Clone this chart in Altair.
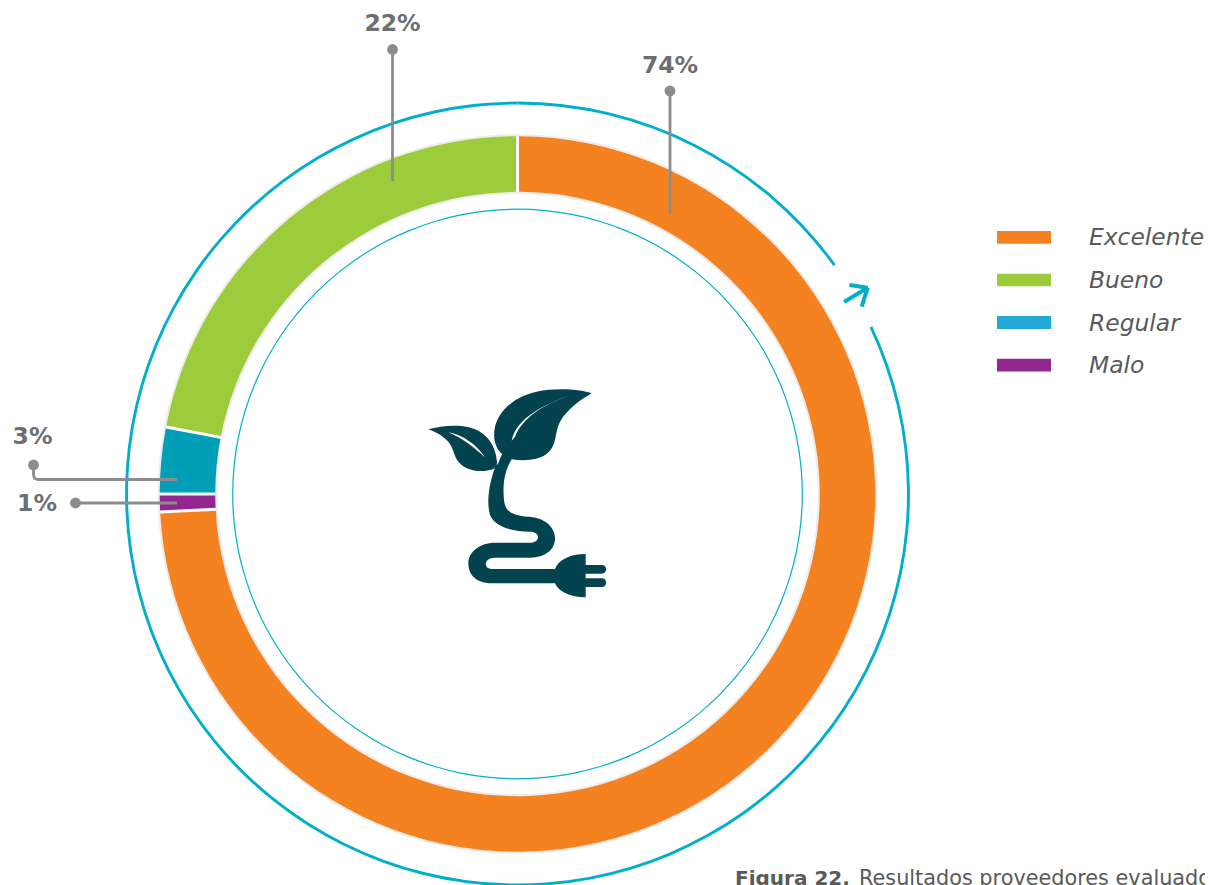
import altair as alt
import pandas as pd

CENTER = (517.5, 494)

segments = ["Excelente", "Malo", "Regular", "Bueno"]
segment_values = [74.2, 0.8, 3.0, 22.0]
segment_colors = ["#F58220", "#92278F", "#009FB7", "#9CCB3B"]

legend_names = ["Excelente", "Bueno", "Regular", "Malo"]
legend_colors = ["#F58220", "#9CCB3B", "#22A9D6", "#92278F"]
legend_top = [231, 273.7, 316, 358.8]
legend_bottom = [243.7, 286.3, 329, 371.6]
legend_baseline = [245, 288, 331, 373]

pct_labels = ["22%", "74%", "3%", "1%"]
pct_x = [392.5, 670, 32.5, 37]
pct_y = [30.5, 73, 444, 511]
dot_x = [392.5, 670, 33.5, 75.5]
dot_y = [49.5, 91, 465, 503]

leader_id = [0, 0, 1, 1, 2, 2, 2, 2, 2, 3, 3]
leader_x = [392.5, 392.5, 670, 670, 33.5, 33.5, 34.6, 38, 177, 75.5, 177]
leader_y = [49.5, 181, 91, 214, 465, 475, 478.3, 479.5, 479.5, 503, 503]

ring_start = [17.97, 0]
ring_end = [100, 15.05]

arrow_x = [844, 849.3, 861.7]
arrow_y = [302, 285, 306.7]
arrow_tip = (867.7, 287.7)

ICON = ("M515,40 C470,25 400,25 350,35 C290,48 240,85 225,140 C218,175 225,200 245,222 "
        "L225,262 C205,320 200,370 210,405 C225,440 275,455 330,455 C362,455 362,488 330,488 "
        "L225,488 C180,488 145,515 145,550 C145,590 175,610 215,610 L405,610 "
        "C415,635 450,652 497,652 L497,621 L545,621 C563,621 563,595 545,595 L497,595 L497,581 "
        "L545,581 C563,581 563,555 545,555 L497,555 L497,522 C450,522 415,540 405,567 L215,567 "
        "C190,567 190,533 225,533 L330,533 C375,533 405,510 405,475 C405,435 365,410 320,410 "
        "C275,405 255,395 252,360 C247,310 255,270 275,238 C320,245 375,240 395,205 "
        "C410,180 405,155 420,125 C440,90 480,60 515,40 Z "
        "M25,148 C70,135 140,130 180,155 C215,178 228,210 232,250 L222,266 "
        "C190,278 150,275 125,255 C100,235 105,210 85,185 C65,165 45,155 25,148 Z")
ICON_WHITE = ("M275,182 C285,130 340,85 445,48 C370,75 310,110 285,170 Z "
              "M85,157 C130,165 170,195 195,232 C165,205 130,175 85,157 Z "
              "M226,203 L246,222 L232,256 L230,232 Z")

xs = alt.Scale(domain=[8, 1205], range=[0, 1197])
ys = alt.Scale(domain=[8, 885], range=[0, 877])
ts = alt.Scale(domain=[0, 100], range=[0, 6.283185307])
X = lambda f: alt.X(f, type="quantitative", scale=xs, axis=None)
Y = lambda f: alt.Y(f, type="quantitative", scale=ys, axis=None)
cx = alt.value(CENTER[0] - 8)
cy = alt.value(CENTER[1] - 8)

starts, ends, total = [], [], 0
for v in segment_values:
    starts.append(total)
    total += v
    ends.append(total)
seg_df = pd.DataFrame({"name": segments, "start": starts, "end": ends, "color": segment_colors})
full_df = pd.DataFrame({"start": [0], "end": [100]})
ring_df = pd.DataFrame({"start": ring_start, "end": ring_end})


def ring(df, r_out, r_in, color, **kw):
    return alt.Chart(df).mark_arc(radius=r_out, radius2=r_in, color=color, **kw).encode(
        theta=alt.Theta("start:Q", scale=ts),
        theta2="end:Q",
        x=cx,
        y=cy,
    )


halo = ring(full_df, 359.8, 300.2, "#ECECEC")
white = ring(full_df, 357.8, 302.2, "#FFFFFF")
donut = alt.Chart(seg_df).mark_arc(radius=357.8, radius2=302.2, padAngle=0.0062).encode(
    theta=alt.Theta("start:Q", scale=ts),
    theta2="end:Q",
    x=cx,
    y=cy,
    color=alt.Color("color:N", scale=None, legend=None),
)
inner = ring(full_df, 285.4, 284.2, "#00AFCB")
outer = ring(ring_df, 392.4, 389.5, "#00AFCB")

arrow_df = pd.DataFrame({"x": arrow_x, "y": arrow_y, "x2": [arrow_tip[0]] * 3, "y2": [arrow_tip[1]] * 3})
arrow = alt.Chart(arrow_df).mark_rule(color="#00AFCB", strokeWidth=4).encode(
    x=X("x"), y=Y("y"), x2="x2:Q", y2="y2:Q"
)

leader_df = pd.DataFrame({"id": leader_id, "x": leader_x, "y": leader_y, "o": range(len(leader_x))})
leaders = alt.Chart(leader_df).mark_line(color="#8C8C8C", strokeWidth=2.8).encode(
    x=X("x"), y=Y("y"), detail="id:N", order="o:Q"
)
dots = alt.Chart(pd.DataFrame({"x": dot_x, "y": dot_y})).mark_point(
    filled=True, color="#8C8C8C", size=118, opacity=1
).encode(x=X("x"), y=Y("y"))

pct = alt.Chart(pd.DataFrame({"t": pct_labels, "x": pct_x, "y": pct_y})).mark_text(
    font="DejaVu Sans", fontWeight="bold", fontSize=23.5, color="#6D6E71", align="center", baseline="alphabetic"
).encode(x=X("x"), y=Y("y"), text="t:N")

leg_df = pd.DataFrame({
    "name": legend_names, "color": legend_colors, "y": legend_top, "y2": legend_bottom,
    "b": legend_baseline, "x": [997] * 4, "x2": [1051] * 4, "tx": [1089] * 4,
})
leg_rect = alt.Chart(leg_df).mark_rect().encode(
    x=X("x"), x2="x2:Q", y=Y("y"), y2="y2:Q", color=alt.Color("color:N", scale=None, legend=None)
)
leg_text = alt.Chart(leg_df).mark_text(
    font="DejaVu Sans", fontStyle="italic", fontSize=23.4, color="#58595B", align="left", baseline="alphabetic"
).encode(x=X("tx"), y=Y("b"), text="name:N")

icon_pos = pd.DataFrame({"x": [420], "y": [380]})
icon = alt.Chart(icon_pos).mark_point(
    shape=ICON, size=4 / 9, filled=True, color="#03434F", opacity=1, strokeWidth=0
).encode(x=X("x"), y=Y("y"))
icon_w = alt.Chart(icon_pos).mark_point(
    shape=ICON_WHITE, size=4 / 9, filled=True, color="#FFFFFF", opacity=1, strokeWidth=0
).encode(x=X("x"), y=Y("y"))

cap_df = pd.DataFrame({"t": ["Figura 22."], "x": [735], "y": [884.6]})
cap_b = alt.Chart(cap_df).mark_text(
    font="DejaVu Sans", fontWeight="bold", fontSize=20, color="#58595B", align="left", baseline="alphabetic"
).encode(x=X("x"), y=Y("y"), text="t:N")
cap_df2 = pd.DataFrame({"t": ["Resultados proveedores evaluados"], "x": [859], "y": [884.6]})
cap_r = alt.Chart(cap_df2).mark_text(
    font="DejaVu Sans", fontSize=20.8, color="#58595B", align="left", baseline="alphabetic"
).encode(x=X("x"), y=Y("y"), text="t:N")

chart = alt.layer(
    halo, white, donut, inner, outer, arrow, leaders, dots, pct,
    leg_rect, leg_text, icon, icon_w, cap_b, cap_r,
).properties(
    width=1197, height=877, padding=0, autosize=alt.AutoSizeParams(type="none"), background="white",
).configure_view(stroke=None)

chart.save("out.html", embed_options={"renderer": "svg", "actions": False})
